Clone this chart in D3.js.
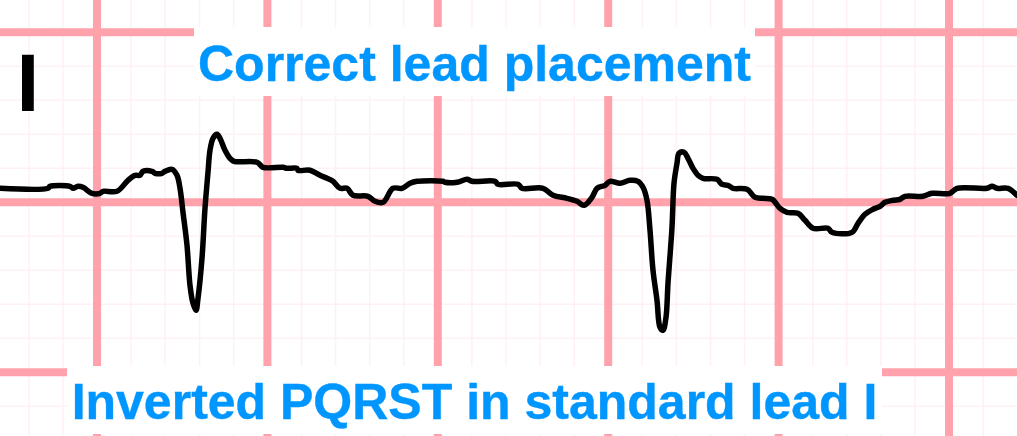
<!DOCTYPE html>
<html>
<head>
<meta charset="utf-8">
<script src="https://cdn.jsdelivr.net/npm/d3@7/dist/d3.min.js"></script>
<style>html,body{margin:0;padding:0;background:#fff;overflow:hidden}svg{display:block}</style>
</head>
<body>
<svg id="chart"></svg>
<script>
// ECG samples (sample index) and amplitude (units above the heavy baseline grid line)
const sampleIdx = [0,48,50,70,73,78,83,92,100,103,117,128,135,140,143,152,155,162,165,172,177,180,183,187,190,193,196,198,202,205,208,210,213,217,220,225,230,234,257,263,283,287,297,298,310,320,327,333,340,347,353,368,375,383,393,402,410,417,443,445,457,467,472,495,498,518,522,543,553,567,577,584,592,597,605,610,620,630,638,643,647,650,653,657,660,663,666,668,672,674,677,679,684,688,693,698,703,717,722,728,733,747,755,763,772,780,787,798,805,813,828,832,852,858,865,873,880,885,893,900,905,923,932,950,957,987,992,997,1008,1017];
const amplitude = [14,14,16,16,14,16,15,9,9,11,11,22,27,27,31,31,29,29,31,33,27,14,-10,-43,-83,-101,-108,-96,-56,-6,30,52,64,68,64,52,44,41,40,35,35,34,34,32,32,27,24,21,14,14,7,6,1,0,14,14,19,21,21,20,20,23,21,21,18,18,14,14,7,4,1,-3,5,14,17,21,19,22,21,15,2,-28,-68,-98,-125,-128,-115,-81,-25,19,39,49,50,44,34,27,24,23,18,17,14,13,5,4,3,-6,-10,-11,-18,-26,-26,-30,-30,-21,-12,-7,-4,0,2,3,6,6,9,9,14,14,16,14,14,7];
const majorX = [97,267.4,437.8,608.2,778.6,949];
const minorX = [29,63,131,165,199.6,233.6,301.5,335.5,369.6,403.7,471.9,506,540,574.2,642.3,676.4,710.5,744.6,812.7,846.8,880.9,915,983.1];
const majorY = [170,0,-170];
const minorY = [136,102,68,34,-34,-68,-102,-136,-204];
const titleTop = "Correct lead placement";
const titleBottom = "Inverted PQRST in standard lead I";
const leadLabel = "I";

const W = 1017, H = 436;
const x = d3.scaleLinear().domain([0,1017]).range([0,W]);
const y = d3.scaleLinear().domain([202.3,-233.7]).range([0,H]);
const svg = d3.select("#chart").attr("width",W).attr("height",H).attr("viewBox",`0 0 ${W} ${H}`);
svg.append("rect").attr("width",W).attr("height",H).attr("fill","#fff");

const minorCol = "#fff0f3", majorCol = "#ffa2ac";
const grid = svg.append("g");
grid.selectAll(".mnx").data(minorX).join("line").attr("class","mnx")
  .attr("x1",d=>x(d)).attr("x2",d=>x(d)).attr("y1",0).attr("y2",H).attr("stroke",minorCol).attr("stroke-width",1.5);
grid.selectAll(".mny").data(minorY).join("line").attr("class","mny")
  .attr("y1",d=>y(d)).attr("y2",d=>y(d)).attr("x1",0).attr("x2",W).attr("stroke",minorCol).attr("stroke-width",1.5);
grid.selectAll(".mjx").data(majorX).join("line").attr("class","mjx")
  .attr("x1",d=>x(d)).attr("x2",d=>x(d)).attr("y1",0).attr("y2",H).attr("stroke",majorCol).attr("stroke-width",8);
grid.selectAll(".mjy").data(majorY).join("line").attr("class","mjy")
  .attr("y1",d=>y(d)).attr("y2",d=>y(d)).attr("x1",0).attr("x2",W).attr("stroke",majorCol).attr("stroke-width",8);

// white plates behind titles
svg.append("rect").attr("x",194).attr("y",27).attr("width",561).attr("height",69).attr("fill","#fff");
svg.append("rect").attr("x",67).attr("y",366).attr("width",815).attr("height",68).attr("fill","#fff");

const line = d3.line().x((d,i)=>x(sampleIdx[i])).y(d=>y(d)).curve(d3.curveCatmullRom.alpha(0.5));
svg.append("path").datum(amplitude).attr("d",line).attr("fill","none").attr("stroke","#000")
  .attr("stroke-width",5.5).attr("stroke-linejoin","round").attr("stroke-linecap","round");

const font = "'Liberation Sans', Arial, sans-serif";
svg.append("text").attr("x",474.5).attr("y",80.5).attr("text-anchor","middle")
  .attr("font-family",font).attr("font-weight",700).attr("font-size",50).attr("fill","#0096ff").attr("stroke","#0096ff").attr("stroke-width",0.4).text(titleTop);
svg.append("text").attr("x",474.5).attr("y",419).attr("text-anchor","middle")
  .attr("font-family",font).attr("font-weight",700).attr("font-size",50).attr("fill","#0096ff").attr("stroke","#0096ff").attr("stroke-width",0.4).text(titleBottom);
svg.append("text").attr("x",28).attr("y",110.5).attr("text-anchor","middle")
  .attr("font-family",font).attr("font-weight",700).attr("font-size",82).attr("fill","#000").text(leadLabel);
</script>
</body>
</html>
